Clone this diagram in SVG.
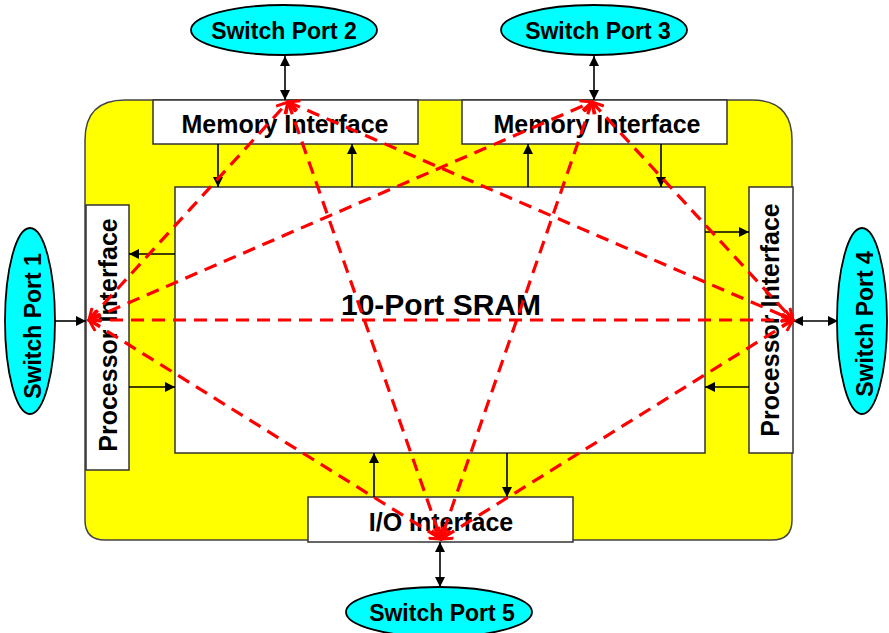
<svg xmlns="http://www.w3.org/2000/svg" width="889" height="633" viewBox="0 0 889 633">
  <style>
    .box { fill: #ffffff; stroke: #333333; stroke-width: 1.5; }
    .port { fill: #00ffff; stroke: #000000; stroke-width: 1.8; }
    .lbl { font-family: "Liberation Sans", Arial, sans-serif; font-weight: bold; fill: #000000; text-anchor: middle; }
    .link { stroke: #000000; stroke-width: 1.6; fill: none; }
    .path { stroke: #ff0000; stroke-width: 3.2; fill: none; stroke-dasharray: 13 8; }
  </style>
  <defs>
    <marker id="tri" viewBox="0 0 10 10" refX="10" refY="5" markerWidth="10" markerHeight="10" markerUnits="userSpaceOnUse" orient="auto-start-reverse">
      <path d="M0,0 L10,5 L0,10 Z" fill="#000000"/>
    </marker>
    <marker id="vee" viewBox="0 0 14 14" refX="12" refY="7" markerWidth="14" markerHeight="14" markerUnits="userSpaceOnUse" orient="auto-start-reverse">
      <path d="M1,1 L12,7 L1,13" fill="none" stroke="#ff0000" stroke-width="3"/>
    </marker>
  </defs>

  <!-- chip outline -->
  <path id="chip" d="M125,100 H752 Q792,100 792,140 V520 Q792,540 772,540 H105 Q85,540 85,520 V140 Q85,100 125,100 Z" fill="#ffff00" stroke="#444444" stroke-width="1.5"/>

  <g id="sram">
    <rect class="box" x="175" y="187" width="530" height="266"/>
    <text class="lbl" x="441" y="315" font-size="30">10-Port SRAM</text>
  </g>
  <g id="mem-if-1">
    <rect class="box" x="153" y="100" width="265" height="44"/>
    <text class="lbl" x="285" y="133" font-size="25">Memory Interface</text>
  </g>
  <g id="mem-if-2">
    <rect class="box" x="462" y="100" width="265" height="44"/>
    <text class="lbl" x="597" y="133" font-size="25">Memory Interface</text>
  </g>
  <g id="proc-if-1">
    <rect class="box" x="86" y="205" width="43" height="265"/>
    <text class="lbl" transform="translate(117,335) rotate(-90)" font-size="25">Processor Interface</text>
  </g>
  <g id="proc-if-2">
    <rect class="box" x="749" y="187" width="44" height="266"/>
    <text class="lbl" transform="translate(779,320) rotate(-90)" font-size="25">Processor Interface</text>
  </g>
  <g id="io-if">
    <rect class="box" x="308" y="497" width="265" height="45"/>
    <text class="lbl" x="441" y="531" font-size="25">I/O Interface</text>
  </g>

  <g id="port-1">
    <ellipse class="port" cx="30" cy="321" rx="25" ry="93"/>
    <text class="lbl" transform="translate(41,326) rotate(-90)" font-size="23">Switch Port 1</text>
  </g>
  <g id="port-2">
    <ellipse class="port" cx="284" cy="30" rx="93" ry="25"/>
    <text class="lbl" x="284" y="39" font-size="23">Switch Port 2</text>
  </g>
  <g id="port-3">
    <ellipse class="port" cx="594" cy="30" rx="93" ry="25"/>
    <text class="lbl" x="598" y="39" font-size="23">Switch Port 3</text>
  </g>
  <g id="port-4">
    <ellipse class="port" cx="862" cy="321" rx="25" ry="93"/>
    <text class="lbl" transform="translate(873,324) rotate(-90)" font-size="23">Switch Port 4</text>
  </g>
  <g id="port-5">
    <ellipse class="port" cx="439" cy="612" rx="93" ry="25"/>
    <text class="lbl" x="442" y="621" font-size="23">Switch Port 5</text>
  </g>

  <g id="connectors">
    <!-- external port links -->
    <line class="link" x1="285" y1="56" x2="285" y2="100" marker-start="url(#tri)" marker-end="url(#tri)"/>
    <line class="link" x1="594" y1="56" x2="594" y2="100" marker-start="url(#tri)" marker-end="url(#tri)"/>
    <line class="link" x1="55" y1="321" x2="86" y2="321" marker-end="url(#tri)"/>
    <line class="link" x1="793" y1="321" x2="838" y2="321" marker-start="url(#tri)" marker-end="url(#tri)"/>
    <line class="link" x1="440" y1="542" x2="440" y2="587" marker-start="url(#tri)" marker-end="url(#tri)"/>

    <!-- interface to SRAM links -->
    <line class="link" x1="218" y1="144" x2="218" y2="187" marker-end="url(#tri)"/>
    <line class="link" x1="352" y1="187" x2="352" y2="144" marker-end="url(#tri)"/>
    <line class="link" x1="528" y1="187" x2="528" y2="144" marker-end="url(#tri)"/>
    <line class="link" x1="661" y1="144" x2="661" y2="187" marker-end="url(#tri)"/>
    <line class="link" x1="175" y1="254" x2="129" y2="254" marker-end="url(#tri)"/>
    <line class="link" x1="129" y1="387" x2="175" y2="387" marker-end="url(#tri)"/>
    <line class="link" x1="705" y1="232" x2="749" y2="232" marker-end="url(#tri)"/>
    <line class="link" x1="749" y1="387" x2="705" y2="387" marker-end="url(#tri)"/>
    <line class="link" x1="374" y1="497" x2="374" y2="453" marker-end="url(#tri)"/>
    <line class="link" x1="507" y1="453" x2="507" y2="497" marker-end="url(#tri)"/>

    <!-- port-to-port paths through the SRAM -->
    <line class="path" x1="89" y1="320" x2="288" y2="102" marker-start="url(#vee)" marker-end="url(#vee)"/>
    <line class="path" x1="89" y1="320" x2="592" y2="102" marker-start="url(#vee)" marker-end="url(#vee)"/>
    <line class="path" x1="89" y1="320" x2="793" y2="320" marker-start="url(#vee)" marker-end="url(#vee)"/>
    <line class="path" x1="89" y1="320" x2="441" y2="539" marker-start="url(#vee)" marker-end="url(#vee)"/>
    <line class="path" x1="288" y1="102" x2="793" y2="320" marker-start="url(#vee)" marker-end="url(#vee)"/>
    <line class="path" x1="288" y1="102" x2="441" y2="539" marker-start="url(#vee)" marker-end="url(#vee)"/>
    <line class="path" x1="592" y1="102" x2="793" y2="320" marker-start="url(#vee)" marker-end="url(#vee)"/>
    <line class="path" x1="592" y1="102" x2="441" y2="539" marker-start="url(#vee)" marker-end="url(#vee)"/>
    <line class="path" x1="793" y1="320" x2="441" y2="539" marker-start="url(#vee)" marker-end="url(#vee)"/>
  </g>
</svg>
